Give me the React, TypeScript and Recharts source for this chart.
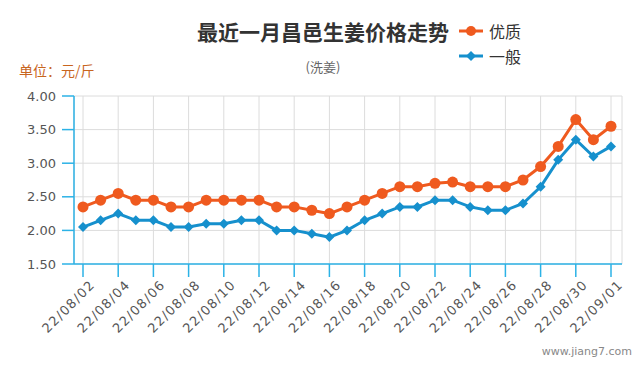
import { LineChart, Line, XAxis, YAxis, CartesianGrid } from "recharts";

// 最近一月昌邑生姜价格走势 (洗姜), 单位 元/斤
const DATES = [
  "22/08/02", "22/08/03", "22/08/04", "22/08/05", "22/08/06", "22/08/07", "22/08/08", "22/08/09",
  "22/08/10", "22/08/11", "22/08/12", "22/08/13", "22/08/14", "22/08/15", "22/08/16", "22/08/17",
  "22/08/18", "22/08/19", "22/08/20", "22/08/21", "22/08/22", "22/08/23", "22/08/24", "22/08/25",
  "22/08/26", "22/08/27", "22/08/28", "22/08/29", "22/08/30", "22/08/31", "22/09/01",
];
const PREMIUM = [
  2.35, 2.45, 2.55, 2.45, 2.45, 2.35, 2.35, 2.45, 2.45, 2.45, 2.45, 2.35, 2.35, 2.3, 2.25, 2.35,
  2.45, 2.55, 2.65, 2.65, 2.7, 2.72, 2.65, 2.65, 2.65, 2.75, 2.95, 3.25, 3.65, 3.35, 3.55,
];
const REGULAR = [
  2.05, 2.15, 2.25, 2.15, 2.15, 2.05, 2.05, 2.1, 2.1, 2.15, 2.15, 2.0, 2.0, 1.95, 1.9, 2.0,
  2.15, 2.25, 2.35, 2.35, 2.45, 2.45, 2.35, 2.3, 2.3, 2.4, 2.65, 3.05, 3.35, 3.1, 3.25,
];
const Y_TICKS = [1.5, 2.0, 2.5, 3.0, 3.5, 4.0];
const LEGEND = [
  { label: "优质", key: "premium" },
  { label: "一般", key: "regular" },
];

const ORANGE = "#ef5a1f";
const BLUE = "#1690cd";
const AXIS = "#2cb2e6";
const CJK = "'Noto Sans CJK SC', 'Noto Sans', sans-serif";
const LATIN = "'DejaVu Sans', Verdana, sans-serif";

const data = DATES.map((d, i) => ({ date: d, premium: PREMIUM[i], regular: REGULAR[i] }));

function Diamond(props: any) {
  const { cx, cy } = props;
  if (cx == null || cy == null) return null;
  const s = 5;
  return <path d={`M${cx},${cy - s}L${cx + s},${cy}L${cx},${cy + s}L${cx - s},${cy}Z`} fill={BLUE} />;
}

function XTick(props: any) {
  const { x, y, payload } = props;
  return (
    <g transform={`translate(${x + 7},${y + 1})`}>
      <text transform="rotate(-45)" textAnchor="end" dy={8} fill="#555" fontSize={13}
        fontFamily={LATIN} letterSpacing={1.2}>
        {payload.value}
      </text>
    </g>
  );
}

function LegendBox() {
  return (
    <div style={{ position: "absolute", left: 459, top: 19, display: "flex", flexDirection: "column", gap: 2 }}>
      {LEGEND.map((it) => {
        const color = it.key === "premium" ? ORANGE : BLUE;
        return (
          <div key={it.label} style={{ display: "flex", alignItems: "center", height: 23 }}>
            <svg width={24} height={14} style={{ marginRight: 6 }}>
              <line x1={0} y1={7} x2={24} y2={7} stroke={color} strokeWidth={3} />
              {it.key === "premium"
                ? <circle cx={12} cy={7} r={5} fill={color} />
                : <path d="M12,2L17,7L12,12L7,7Z" fill={color} />}
            </svg>
            <span style={{ fontFamily: CJK, fontSize: 16, color: "#333" }}>{it.label}</span>
          </div>
        );
      })}
    </div>
  );
}

export default function App() {
  return (
    <div style={{ position: "absolute", left: 0, top: 0, width: 640, height: 370, background: "#fff", overflow: "hidden" }}>
      <div style={{ position: "absolute", left: 0, width: 646, top: 16, textAlign: "center", fontFamily: CJK, fontWeight: 700, fontSize: 21, color: "#333", lineHeight: "30px" }}>
        最近一月昌邑生姜价格走势
      </div>
      <div style={{ position: "absolute", left: 0, width: 646, top: 57, textAlign: "center", fontFamily: CJK, fontSize: 13, color: "#666", lineHeight: "20px" }}>
        (洗姜)
      </div>
      <div style={{ position: "absolute", left: 19, top: 60, fontFamily: CJK, fontSize: 14, color: "#c8651e", lineHeight: "20px" }}>
        单位：元/斤
      </div>
      <div style={{ position: "absolute", right: 8, bottom: 12, fontFamily: LATIN, fontSize: 11, color: "#888" }}>
        www.jiang7.com
      </div>
      <LegendBox />
      <LineChart width={640} height={370} data={data} margin={{ top: 96, right: 18, bottom: 36, left: 0 }}>
        <CartesianGrid stroke="#dcdcdc" strokeWidth={1} />
        <XAxis dataKey="date" interval={1} height={70} padding={{ left: 9, right: 11 }}
          stroke={AXIS} strokeWidth={1.5} tickSize={13} tick={<XTick />} />
        <YAxis domain={[1.5, 4]} ticks={Y_TICKS} width={74} stroke={AXIS} strokeWidth={1.5}
          tickSize={12} tickMargin={6} tickFormatter={(v: number) => v.toFixed(2)}
          tick={{ fill: "#555", fontSize: 13, fontFamily: LATIN }} />
        <Line dataKey="regular" name="一般" stroke={BLUE} strokeWidth={3} dot={<Diamond />}
          activeDot={false} isAnimationActive={false} />
        <Line dataKey="premium" name="优质" stroke={ORANGE} strokeWidth={3}
          dot={{ r: 5.5, fill: ORANGE, stroke: "none" }} activeDot={false} isAnimationActive={false} />
      </LineChart>
    </div>
  );
}
